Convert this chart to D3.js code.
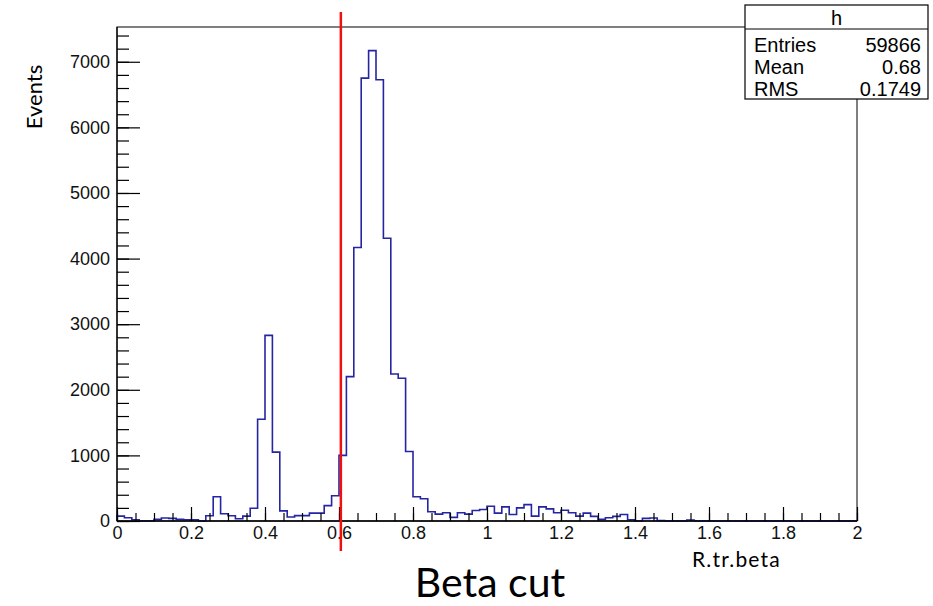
<!DOCTYPE html>
<meta charset="utf-8">
<title>Beta cut</title>
<style>
body { margin: 0; background: #fff; }
svg { display: block; }
.tick text, .stat { font-family: "Liberation Sans", Arial, sans-serif; }
.callout { font-family: Lato, "Open Sans", sans-serif; fill: #000; }
</style>
<body>
<svg></svg>
</body>
<script src="https://d3js.org/d3.v7.min.js"></script>
<script>

var width = 933,
    height = 606;

// histogram h : R.tr.beta, 100 bins from 0 to 2
var binLow = 0, binHigh = 2, binWidth = 0.02;
var counts = [
    75, 50, 20, 0, 0, 25, 45, 40, 25, 20,
    20, 0, 80, 370, 110, 80, 35, 75, 195, 1550,
    2830, 1050, 155, 60, 82, 82, 120, 120, 235, 385,
    1000, 2200, 4170, 6750, 7170, 6725, 4310, 2240, 2175, 1060,
    370, 340, 140, 105, 125, 55, 125, 105, 160, 175,
    225, 120, 215, 100, 200, 250, 75, 215, 185, 125,
    165, 125, 75, 120, 70, 25, 50, 70, 100, 20,
    0, 40, 45, 5, 0, 0, 0, 15, 0, 0,
    0, 0, 0, 0, 0, 0, 0, 0, 0, 0,
    0, 0, 0, 0, 0, 0, 0, 0, 0, 0
];
var yMax = 7530;
var cutValue = 0.605;

var statsTitle = "h";
var statsNames = ["Entries", "Mean", "RMS"];
var statsValues = ["59866", "0.68", "0.1749"];

var xMajorTicks = d3.range(0, 2.0001, 0.2),
    xMinorTicks = d3.range(0, 2.0001, 0.05),
    yMajorTicks = d3.range(0, 7001, 1000),
    yMinorTicks = d3.range(0, 7401, 200);

var margin = {top: 27, right: 76, bottom: 85, left: 117};

var svg = d3.select("svg").attr("width", width).attr("height", height);

var x = d3.scaleLinear().domain([binLow, binHigh]).range([margin.left, width - margin.right]),
    y = d3.scaleLinear().domain([0, yMax]).range([height - margin.bottom, margin.top]);

// frame
svg.append("rect")
    .attr("x", x(binLow)).attr("y", y(yMax))
    .attr("width", x(binHigh) - x(binLow)).attr("height", y(0) - y(yMax))
    .attr("fill", "none").attr("stroke", "#000").attr("stroke-width", 1);

// histogram outline
var pts = [[x(binLow), y(0)]];
counts.forEach(function(c, i){
    var lo = binLow + i * binWidth;
    pts.push([x(lo), y(c)], [x(lo + binWidth), y(c)]);
});
svg.append("path")
    .datum(pts)
    .attr("d", d3.line())
    .attr("fill", "none")
    .attr("stroke", "#2525a2")
    .attr("stroke-width", 1.6);

// axes
function styleAxis(g){
    g.select(".domain").remove();
    g.selectAll(".tick line").attr("stroke", "#000").attr("stroke-width", 1.2);
    g.selectAll(".tick text").attr("font-size", 18).attr("fill", "#111");
}

svg.append("g")
    .attr("transform", "translate(0," + y(0) + ")")
    .call(d3.axisBottom(x).tickValues(xMinorTicks).tickSize(-8).tickFormat(""))
    .call(styleAxis);
svg.append("g")
    .attr("transform", "translate(0," + y(0) + ")")
    .call(d3.axisBottom(x).tickValues(xMajorTicks).tickSize(-14).tickPadding(4).tickFormat(d3.format("~g")))
    .call(styleAxis)
    .selectAll(".tick text").attr("dy", "0.75em");

svg.append("g")
    .attr("transform", "translate(" + x(binLow) + ",0)")
    .call(d3.axisLeft(y).tickValues(yMinorTicks).tickSize(-12).tickFormat(""))
    .call(styleAxis);
svg.append("g")
    .attr("transform", "translate(" + x(binLow) + ",0)")
    .call(d3.axisLeft(y).tickValues(yMajorTicks).tickSize(-23).tickPadding(7).tickFormat(d3.format("d")))
    .call(styleAxis);

svg.append("line")
    .attr("x1", x(binLow)).attr("x2", x(binHigh))
    .attr("y1", y(0)).attr("y2", y(0))
    .attr("stroke", "#000").attr("stroke-width", 1.5);
svg.append("line")
    .attr("x1", x(binLow)).attr("x2", x(binLow))
    .attr("y1", y(0)).attr("y2", y(yMax))
    .attr("stroke", "#000").attr("stroke-width", 1.2);

// cut line
svg.append("line")
    .attr("x1", x(cutValue)).attr("x2", x(cutValue))
    .attr("y1", margin.top - 15).attr("y2", y(0) + 30)
    .attr("stroke", "#f01010").attr("stroke-width", 2.5);

// stats box
var box = {x: 745, y: 5, w: 183, h: 94, titleH: 24};
svg.append("rect")
    .attr("x", box.x).attr("y", box.y).attr("width", box.w).attr("height", box.h)
    .attr("fill", "#fff").attr("stroke", "#000").attr("stroke-width", 1.2);
svg.append("line")
    .attr("x1", box.x).attr("x2", box.x + box.w)
    .attr("y1", box.y + box.titleH).attr("y2", box.y + box.titleH)
    .attr("stroke", "#000").attr("stroke-width", 1.2);
svg.append("text").attr("class", "stat")
    .attr("x", box.x + box.w / 2).attr("y", box.y + 20)
    .attr("text-anchor", "middle").attr("font-size", 20)
    .text(statsTitle);
statsNames.forEach(function(name, i){
    var by = box.y + 47 + i * 22;
    svg.append("text").attr("class", "stat")
        .attr("x", box.x + 9).attr("y", by).attr("font-size", 20)
        .text(name);
    svg.append("text").attr("class", "stat")
        .attr("x", box.x + box.w - 7).attr("y", by).attr("font-size", 20)
        .attr("text-anchor", "end")
        .text(statsValues[i]);
});

// titles
svg.append("text").attr("class", "callout")
    .attr("transform", "translate(42,97) rotate(-90)")
    .attr("text-anchor", "middle").attr("font-size", 22)
    .text("Events");
svg.append("text").attr("class", "callout")
    .attr("x", 692).attr("y", 567).attr("font-size", 21)
    .attr("letter-spacing", 1.2)
    .text("R.tr.beta");
svg.append("text").attr("class", "callout")
    .attr("x", 490).attr("y", 597).attr("text-anchor", "middle").attr("font-size", 41)
    .text("Beta cut");

</script>
